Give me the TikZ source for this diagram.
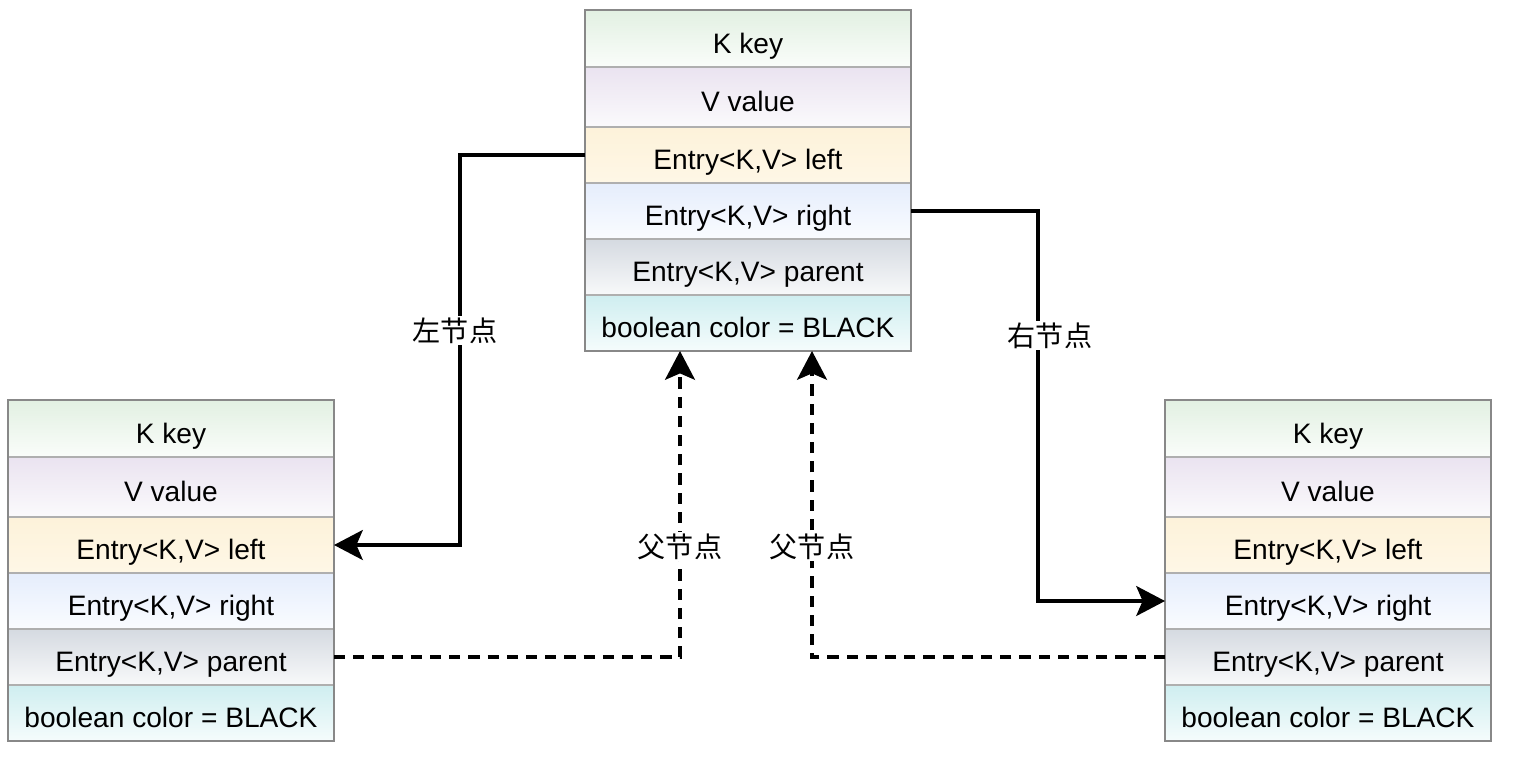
\documentclass[tikz,border=0pt]{standalone}
\usepackage{fontspec}
\setmainfont{Liberation Sans}
\newfontfamily\cjk{Noto Sans CJK SC}
\usetikzlibrary{arrows.meta,fit,calc,positioning}
\definecolor{keyTop}{RGB}{226,240,226}
\definecolor{keyBottom}{RGB}{250,253,250}
\definecolor{valueTop}{RGB}{234,227,240}
\definecolor{valueBottom}{RGB}{251,250,252}
\definecolor{leftTop}{RGB}{253,242,218}
\definecolor{leftBottom}{RGB}{254,247,230}
\definecolor{rightTop}{RGB}{229,237,252}
\definecolor{rightBottom}{RGB}{250,252,255}
\definecolor{parentTop}{RGB}{213,218,225}
\definecolor{parentBottom}{RGB}{248,249,250}
\definecolor{colorTop}{RGB}{207,238,240}
\definecolor{colorBottom}{RGB}{245,252,252}
\definecolor{fieldLine}{RGB}{175,175,175}
\definecolor{frameColor}{RGB}{136,136,136}
\tikzset{field/.style={draw=fieldLine, line width=1pt, minimum width=8.15cm, minimum height=1.4cm, inner sep=0pt, outer sep=0pt, text height=21pt, text depth=0pt, font=\fontsize{20}{24}\selectfont}}
\tikzset{keyfield/.style={field, top color=keyTop, bottom color=keyBottom, minimum height=1.425cm}}
\tikzset{valuefield/.style={field, top color=valueTop, bottom color=valueBottom, minimum height=1.5cm}}
\tikzset{leftfield/.style={field, top color=leftTop, bottom color=leftBottom}}
\tikzset{rightfield/.style={field, top color=rightTop, bottom color=rightBottom}}
\tikzset{parentfield/.style={field, top color=parentTop, bottom color=parentBottom}}
\tikzset{colorfield/.style={field, top color=colorTop, bottom color=colorBottom}}
\tikzset{frame/.style={draw=frameColor, line width=1.5pt, inner sep=0pt}}
\tikzstyle{arrow} = [-{Stealth[length=0.72cm, width=0.75cm, inset=0.16cm]}, line width=2.2pt]
\tikzstyle{parentarrow} = [arrow, dash pattern=on 0.28cm off 0.2cm]
\tikzstyle{linklabel} = [fill=white, inner sep=1pt, font=\cjk\fontsize{20}{24}\selectfont]

\begin{document}
\begin{tikzpicture}
	\useasboundingbox (0,0) rectangle (38.05,-18.9);
	% Nodes
		\node (tkey) [keyfield, anchor=north west] at (14.625,-0.25) {K key};
		\node (tvalue) [valuefield, below=0pt of tkey] {V value};
		\node (tleft) [leftfield, below=0pt of tvalue] {Entry<K,V> left};
		\node (tright) [rightfield, below=0pt of tleft] {Entry<K,V> right};
		\node (tparent) [parentfield, below=0pt of tright] {Entry<K,V> parent};
		\node (tcolor) [colorfield, below=0pt of tparent] {boolean color = BLACK};
		\node [frame, fit=(tkey) (tcolor)] {};

		\node (lkey) [keyfield, anchor=north west] at (0.2,-10) {K key};
		\node (lvalue) [valuefield, below=0pt of lkey] {V value};
		\node (lleft) [leftfield, below=0pt of lvalue] {Entry<K,V> left};
		\node (lright) [rightfield, below=0pt of lleft] {Entry<K,V> right};
		\node (lparent) [parentfield, below=0pt of lright] {Entry<K,V> parent};
		\node (lcolor) [colorfield, below=0pt of lparent] {boolean color = BLACK};
		\node [frame, fit=(lkey) (lcolor)] {};

		\node (rkey) [keyfield, anchor=north west] at (29.125,-10) {K key};
		\node (rvalue) [valuefield, below=0pt of rkey] {V value};
		\node (rleft) [leftfield, below=0pt of rvalue] {Entry<K,V> left};
		\node (rright) [rightfield, below=0pt of rleft] {Entry<K,V> right};
		\node (rparent) [parentfield, below=0pt of rright] {Entry<K,V> parent};
		\node (rcolor) [colorfield, below=0pt of rparent] {boolean color = BLACK};
		\node [frame, fit=(rkey) (rcolor)] {};

		\coordinate (leftbend) at (11.5,0);
		\coordinate (rightbend) at (25.95,0);
		\coordinate (leftup) at (17,0);
		\coordinate (rightup) at (20.3,0);

		% Connectors
		\draw [arrow] (tleft.west) -- (tleft.west -| leftbend) -- node[linklabel, pos=0.45, xshift=-0.125cm] {左节点} (lleft.east -| leftbend) -- (lleft.east);
		\draw [arrow] (tright.east) -- (tright.east -| rightbend) -- node[linklabel, pos=0.32, xshift=0.3cm] {右节点} (rright.west -| rightbend) -- (rright.west);

		\draw [parentarrow] (lparent.east) -- (lparent.east -| leftup) -- node[linklabel, pos=0.36] {父节点} (tcolor.south -| leftup);
		\draw [parentarrow] (rparent.west) -- (rparent.west -| rightup) -- node[linklabel, pos=0.36] {父节点} (tcolor.south -| rightup);

\end{tikzpicture}
\end{document}
